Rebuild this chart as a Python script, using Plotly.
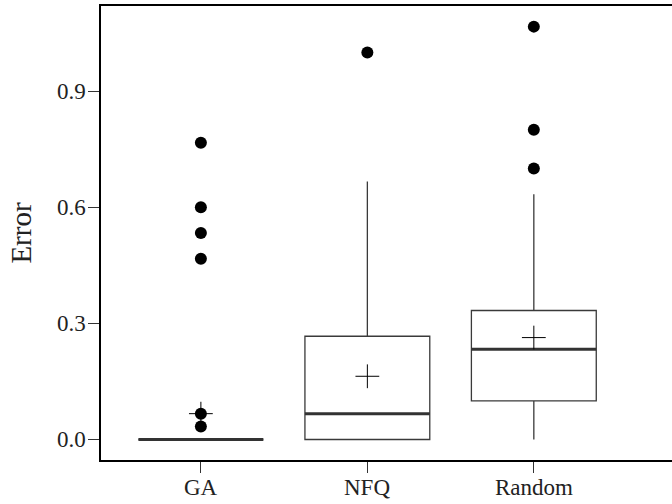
import plotly.graph_objects as go

# Summary statistics of the error for each method
methods = ["GA", "NFQ", "Random"]
positions = [0, 1, 2]
q1 = [0.0, 0.0, 0.1]
median = [0.0, 0.0667, 0.2333]
q3 = [0.0, 0.2667, 0.3333]
lower_whisker = [0.0, 0.0, 0.0]
upper_whisker = [0.0, 0.6667, 0.6333]
mean = [0.0667, 0.1633, 0.2633]

# Outlying runs per method
outliers = {
    "GA": [0.7667, 0.6, 0.5333, 0.4667, 0.0667, 0.0333],
    "NFQ": [1.0],
    "Random": [1.0667, 0.8, 0.7],
}

y_ticks = [0.0, 0.3, 0.6, 0.9]
y_tick_text = ["0.0", "0.3", "0.6", "0.9"]

box_width = 0.75
line_col = "#3a3a3a"
font_family = "Liberation Serif, Times New Roman, serif"
tick_font = dict(family=font_family, size=23, color="#222222")

fig = go.Figure()

fig.add_trace(go.Box(
    x=positions, q1=q1, median=median, q3=q3,
    lowerfence=lower_whisker, upperfence=upper_whisker,
    width=box_width, whiskerwidth=0,
    fillcolor="white", line=dict(color=line_col, width=1.3),
    boxpoints=False, showlegend=False, hoverinfo="skip",
))

# thicker median bars
mx, my = [], []
for p, m in zip(positions, median):
    mx += [p - box_width / 2, p + box_width / 2, None]
    my += [m, m, None]
fig.add_trace(go.Scatter(x=mx, y=my, mode="lines",
                         line=dict(color="#333333", width=3),
                         showlegend=False, hoverinfo="skip"))

# outlier dots
ox, oy = [], []
for p, name in zip(positions, methods):
    ox += [p] * len(outliers[name])
    oy += outliers[name]
fig.add_trace(go.Scatter(x=ox, y=oy, mode="markers",
                         marker=dict(symbol="circle", size=12, color="black"),
                         showlegend=False, hoverinfo="skip"))

# mean markers
fig.add_trace(go.Scatter(x=positions, y=mean, mode="markers",
                         marker=dict(symbol="cross-thin", size=17,
                                     line=dict(color="black", width=1)),
                         showlegend=False, hoverinfo="skip"))

# tick labels placed close to the tick marks
annotations = []
for p, name in zip(positions, methods):
    annotations.append(dict(x=p, y=0, xref="x", yref="paper", text=name,
                            showarrow=False, xanchor="center", yanchor="top",
                            yshift=-13, font=tick_font))
for v, t in zip(y_ticks, y_tick_text):
    annotations.append(dict(x=0, y=v, xref="paper", yref="y", text=t,
                            showarrow=False, xanchor="right", yanchor="middle",
                            xshift=-13, font=tick_font))

fig.update_layout(
    width=672, height=504,
    margin=dict(l=101, r=0, t=6, b=44),
    paper_bgcolor="white", plot_bgcolor="white",
    font=dict(family=font_family, size=23, color="#222222"),
    annotations=annotations,
)
fig.update_xaxes(
    range=[-0.6, 2.83], tickvals=positions, showticklabels=False,
    showgrid=False, zeroline=False,
    showline=True, linecolor="black", linewidth=2, mirror=True,
    ticks="outside", ticklen=11, tickwidth=1, tickcolor="#333333",
)
fig.update_yaxes(
    range=[-0.053, 1.12], tickvals=y_ticks, showticklabels=False,
    showgrid=False, zeroline=False,
    showline=True, linecolor="black", linewidth=2,
    ticks="outside", ticklen=11, tickwidth=1, tickcolor="#333333",
    title=dict(text="Error", font=dict(size=29), standoff=48),
)

fig.write_html("out.html")
